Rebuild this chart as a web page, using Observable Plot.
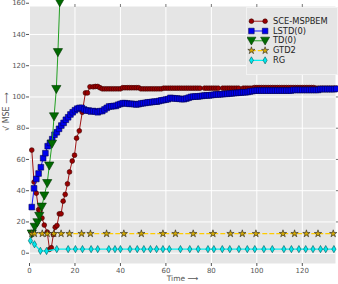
<!DOCTYPE html>
<html>
<head>
<meta charset="utf-8">
<script src="https://cdn.jsdelivr.net/npm/d3@7"></script>
<script src="https://cdn.jsdelivr.net/npm/@observablehq/plot@0.6"></script>
<style>
  html, body { margin: 0; padding: 0; background: #fff; }
  #wrap { position: relative; width: 338px; height: 284px; font-family: "DejaVu Sans", sans-serif; }
  #legend { position: absolute; left: 246px; top: 7px; }
</style>
</head>
<body>
<div id="wrap"><div id="chart"></div><div id="legend"></div></div>
<script>
// ---- data ----
const xTicks = [0, 20, 40, 60, 80, 100, 120];
const yTicks = [0, 20, 40, 60, 80, 100, 120, 140, 160];
const seriesNames = ["SCE-MSPBEM", "LSTD(0)", "TD(0)", "GTD2", "RG"];

// SCE-MSPBEM
const sceT = [1, 2, 3, 4, 4.6, 5.5, 6.5, 7.8, 8.8, 9.6, 10.5, 11.3, 12.1, 13.1, 13.9, 14.8, 15.7, 16.7, 17.6, 18.8, 19.8, 20.7, 21.9, 23.2, 24.6, 25.5, 26.6,
  28, 29, 30, 31, 32, 33, 34, 35, 36, 37, 38, 39, 40, 41, 42, 43, 44, 45, 46, 47, 48, 49, 50, 51, 52, 53, 54, 55, 56, 57, 58,
  59, 60, 61, 62, 63, 64, 65, 66, 67, 68, 69, 70, 71, 72, 73, 74, 75, 77, 78, 79, 80, 81, 82, 83, 85, 86, 87, 88, 89, 90, 91, 92,
  94, 95, 96, 97, 98, 99, 100, 101, 102, 103, 104, 105, 106, 107, 108, 109, 110, 111, 112, 113, 114, 115, 116, 117, 118, 119, 120,
  121, 122, 123, 124, 125, 126, 127, 128, 129, 130, 131, 132, 133, 134, 135];
const sceV = [66, 45.5, 38.4, 27.8, 27, 22.5, 18, 13.5, 2.5, 3.5, 12, 16.6, 17.7, 25.2, 25.2, 33.3, 37.6, 44.4, 52, 59, 62.7, 73.6, 78.3, 90.2, 102.6, 102.6, 106.5,
  106.5, 106.7, 106.7, 105.9, 105.2, 105.2, 105.2, 105.2, 105.2, 105.2, 105.2, 105.2, 105.2, 105.9, 105.9, 105.9, 105.9, 105.9, 105.9, 105.9, 105.9, 105.2, 105.2, 105.2, 105.2, 105.2, 105.2, 105.2, 105.2, 105.2, 105.2,
  105.6, 105.6, 105.6, 105.6, 105.6, 105.6, 105.6, 105.6, 105.6, 105.6, 105.6, 105.6, 105.6, 105.6, 105.6, 105.6, 105.6, 105.6, 105.6, 105.6, 105.6, 105.6, 105.6, 105.6, 105.6, 105.6, 105.6, 105.6, 105.6, 105.6, 105.6, 105.6,
  105.6, 105.6, 105.6, 105.6, 105.6, 106, 106, 106, 106, 106, 106, 106, 106, 106, 106, 106, 106, 106, 106, 106, 106, 106, 106, 106, 106, 106, 106,
  106, 106, 106, 106, 106, 105.6, 105.6, 105.6, 105.6, 105.6, 105.6, 105.6, 105.6, 105.6, 105.6];

// LSTD(0)
const lstdT = [1, 2, 3, 4, 5, 6, 7, 8, 9, 10, 11, 12, 13, 14, 15, 16, 17, 18, 19, 20, 21, 22, 23, 24, 25, 26, 27, 28, 29, 30,
  31, 32, 33, 34, 35, 36, 37, 38, 39, 40, 41, 42, 43, 44, 45, 46, 47, 48, 49, 50, 51, 52, 53, 54, 55, 56, 57, 58, 59, 60,
  61, 62, 63, 64, 65, 66, 67, 68, 69, 70, 71, 72, 73, 74, 75, 76, 77, 78, 79, 80, 81, 82, 83, 84, 85, 86, 87, 88, 89, 90,
  91, 92, 93, 94, 95, 96, 97, 98, 99, 100, 101, 102, 103, 104, 105, 106, 107, 108, 109, 110, 111, 112, 113, 114, 115, 116, 117, 118, 119, 120,
  121, 122, 123, 124, 125, 126, 127, 128, 129, 130, 131, 132, 133, 134, 135];
const lstdV = [29.5, 41.5, 47.5, 51, 55, 60.8, 64, 68.5, 70.6, 73, 75.8, 77.4, 79.6, 81.7, 83.4, 85.4, 87, 88.8, 90.2, 91.5, 92.5, 93, 93, 92, 91.3, 91.3, 90.7, 91, 90.7, 90.2,
  90.9, 91, 92, 93, 93.9, 94, 94.2, 94.3, 95, 95.5, 96, 96, 95.8, 95.6, 95.6, 95.4, 95.2, 95.4, 95.8, 96, 96.2, 96.5, 96.6, 96.8, 97, 97, 97.4, 97.8, 98, 98.3,
  98.6, 99.4, 99.2, 99, 99, 98.8, 98.6, 98.6, 99, 99.5, 100, 100.2, 100.3, 100.3, 100.5, 100.7, 100.9, 101, 101, 101.2, 101.4, 101.6, 101.6, 101.7, 101.8, 102, 102, 102.2, 102.3, 102.5,
  102.6, 102.7, 102.8, 103, 103, 103.2, 103.5, 103.8, 104, 104.1, 104.1, 104.1, 104.1, 104.1, 104.1, 104.1, 104.1, 104.1, 104.1, 104.1, 104.1, 104.1, 104.1, 104.1, 104.1, 104.5, 104.5, 104.5, 104.5, 104.5,
  104.5, 104.5, 104.5, 104.5, 104.5, 104.5, 104.5, 105, 105, 105, 105, 105, 105, 105, 105.2];

// TD(0)
const tdT = [1, 2.3, 3.5, 4.3, 5.4, 6.5, 7.8, 8.7, 9.9, 10.8, 11.8, 12.5, 13.3];
const tdV = [12.5, 16.8, 19.7, 23.8, 29.7, 36.8, 44.8, 56, 70, 87.5, 105, 128.6, 160.5];

// GTD2
const gtdT = [1, 2.2, 5.6, 7.8, 10.7, 13.9, 17.6, 22.9, 26.8, 33.9, 41.5, 49.2, 58.7, 64.2, 72, 80.7, 88.4, 93.6, 99.6, 111.5, 116.6, 121.8, 126.9, 133.6];
const gtdV = [12.5, 12.5, 12.5, 12.5, 12.5, 12.5, 12.5, 12.5, 12.5, 12.5, 12.5, 12.5, 12.5, 12.5, 12.5, 12.5, 12.5, 12.5, 12.5, 12.5, 12.5, 12.5, 12.5, 12.5];

// RG
const rgT = [0.4, 2.2, 4.8, 7.5, 12, 17, 20.2, 23.3, 27.1, 30, 34.9, 37.6, 40, 44.2, 47.4, 50.3, 53.2, 55.9, 58.7, 61.5, 66.4, 70.5, 74.2, 78.5, 81.1, 84.8, 88.1, 92.1, 95.8, 99.1, 103.1, 106.8, 111.9, 115.2, 118.5, 121.5, 124.7, 128, 130.3, 133.9];
const rgV = [8, 5.7, 1.5, 1.4, 2.6, 2.6, 2.6, 2.6, 2.6, 2.6, 2.6, 2.6, 2.6, 2.6, 2.6, 2.6, 2.6, 2.6, 2.6, 2.6, 2.6, 2.6, 2.6, 2.6, 2.6, 2.6, 2.6, 2.6, 2.6, 2.6, 2.6, 2.6, 2.6, 2.6, 2.6, 2.6, 2.6, 2.6, 2.6, 2.6];

// ---- build ----
const zip = (T, V) => T.map((t, i) => ({t, v: V[i]}));
const sce = zip(sceT, sceV), lstd = zip(lstdT, lstdV), td = zip(tdT, tdV), gtd = zip(gtdT, gtdV), rg = zip(rgT, rgV);

const triangleDown = {
  draw(context, size) {
    const r = Math.sqrt(size / Math.PI);
    context.moveTo(-r, -0.8 * r);
    context.lineTo(r, -0.8 * r);
    context.lineTo(0, 0.95 * r);
    context.closePath();
  }
};

const styles = [
  {line: "#a01515", width: 1, dash: null, symbol: "circle", r: 2.4, fill: "#9a0000", stroke: "#3a0000"},
  {line: "#1010ff", width: 1, dash: null, symbol: "square", r: 3.2, fill: "#0000ee", stroke: "#000055"},
  {line: "#22a022", width: 1, dash: null, symbol: triangleDown, r: 4.6, fill: "#006a00", stroke: "#003300"},
  {line: "#ffcc00", width: 1.2, dash: "4,3", symbol: "star", r: 2.3, fill: "#d4a800", stroke: "#222"},
  {line: "#00f0f0", width: 1.3, dash: null, symbol: d3.symbolDiamond, r: 2.2, fill: "#00e8ee", stroke: "#005a5a"}
];
const datasets = [sce, lstd, td, gtd, rg];

const seriesMarks = datasets.flatMap((data, i) => {
  const s = styles[i];
  return [
    Plot.line(data, {x: "t", y: "v", stroke: s.line, strokeWidth: s.width, strokeDasharray: s.dash}),
    Plot.dot(data, {x: "t", y: "v", symbol: s.symbol, r: s.r, fill: s.fill, stroke: s.stroke, strokeWidth: 0.6})
  ];
});

const chart = Plot.plot({
  width: 338,
  height: 284,
  marginLeft: 29,
  marginRight: 3,
  marginTop: 6,
  marginBottom: 21,
  style: {fontFamily: "DejaVu Sans, sans-serif", fontSize: "7px", background: "transparent", overflow: "visible"},
  x: {domain: [0, 134.6], label: null},
  y: {domain: [-6.6, 157.9], label: null},
  marks: [
    Plot.frame({fill: "#e5e5e5", stroke: null}),
    Plot.gridX({ticks: xTicks, stroke: "#ffffff", strokeOpacity: 1, strokeWidth: 1}),
    Plot.gridY({ticks: yTicks.filter(d => d < 158), stroke: "#ffffff", strokeOpacity: 1, strokeWidth: 1}),
    Plot.axisX({ticks: xTicks, tickSize: 3, tickPadding: 2, color: "#555", label: null, fontSize: 7}),
    Plot.axisX({anchor: "top", ticks: xTicks.filter(d => d > 0), tickSize: 3, tickFormat: () => "", color: "#777", label: null}),
    Plot.axisY({ticks: yTicks, tickSize: 3, tickPadding: 1, color: "#555", label: null, fontSize: 7}),
    Plot.axisY({anchor: "right", ticks: yTicks.filter(d => d > 0 && d < 158), tickSize: 3, tickFormat: () => "", color: "#777", label: null}),
    ...seriesMarks,
    Plot.text(["Time \u27F6"], {text: d => d, frameAnchor: "bottom", dy: 17.5, fontSize: 7.5, fill: "#555"}),
    Plot.text(["\u221A MSE \u27F6"], {text: d => d, frameAnchor: "left", rotate: -90, dx: -23, dy: -4, fontSize: 8, fill: "#555"})
  ]
});
document.getElementById("chart").appendChild(chart);

// ---- legend ----
const legendRows = seriesNames.map((name, i) => ({name, i}));
const legendPts = legendRows.flatMap(d => [{name: d.name, i: d.i, k: 0}, {name: d.name, i: d.i, k: 1}]);
const legendMarks = legendRows.flatMap(d => {
  const s = styles[d.i];
  const pts = legendPts.filter(p => p.i === d.i);
  return [
    Plot.line(pts, {x: "k", y: "name", stroke: s.line, strokeWidth: s.width, strokeDasharray: s.dash}),
    Plot.dot(pts, {x: "k", y: "name", symbol: s.symbol, r: s.r, fill: s.fill, stroke: s.stroke, strokeWidth: 0.6})
  ];
});
const legend = Plot.plot({
  width: 92,
  height: 67,
  margin: 0,
  style: {fontFamily: "DejaVu Sans, sans-serif", fontSize: "8.5px", background: "#e5e5e5", border: "1px solid #f2f2f2", boxSizing: "border-box"},
  x: {domain: [0, 1], range: [4, 18], axis: null},
  y: {type: "point", domain: seriesNames, range: [8, 58.7], axis: null},
  marks: [
    ...legendMarks,
    Plot.text(legendRows, {x: () => 1, y: "name", text: "name", dx: 8, textAnchor: "start", fill: "#222", fontSize: 8.5})
  ]
});
document.getElementById("legend").appendChild(legend);
</script>
</body>
</html>
